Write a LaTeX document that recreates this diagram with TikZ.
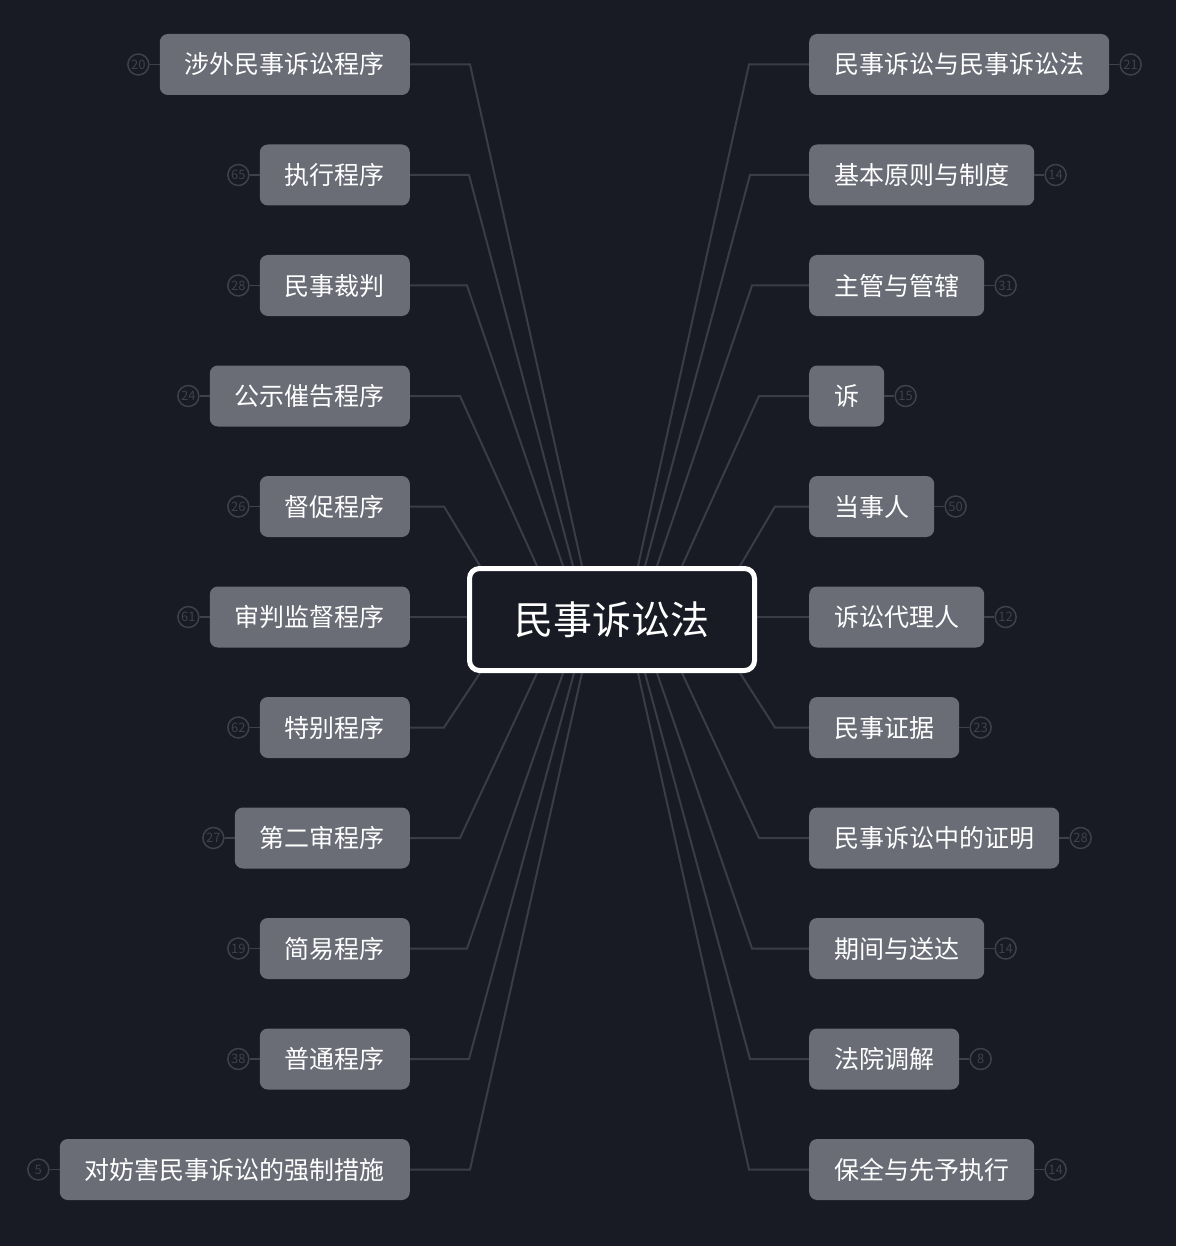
\documentclass[tikz,border=0pt]{standalone}
\usepackage{fontspec}
\setmainfont{Noto Sans CJK SC}
\usetikzlibrary{positioning}
\definecolor{canvas}{HTML}{181A24}
\definecolor{topicgray}{HTML}{6A6C76}
\definecolor{branchgray}{HTML}{3A3C48}
\definecolor{tallygray}{HTML}{3E404C}
\pgfdeclarelayer{bg}
\pgfsetlayers{bg,main}
\tikzstyle{rootbox}=[draw=white, line width=5pt, rounded corners=10pt, fill=canvas, minimum width=285pt, minimum height=102pt, inner sep=0pt, text=white, text height=34.3pt, text depth=4.7pt, font=\fontsize{39}{39}\selectfont]
\tikzstyle{topic}=[fill=topicgray, rounded corners=8pt, minimum height=61pt, inner xsep=25pt, inner ysep=0pt, text=white, text height=22pt, text depth=3pt, font=\fontsize{25}{25}\selectfont]
\tikzstyle{tally}=[circle, draw=tallygray, line width=1.5pt, minimum size=21pt, inner sep=0pt, text=tallygray, text height=9.5pt, text depth=0pt, font=\fontsize{13}{13}\selectfont]
\tikzstyle{branch}=[branchgray, line width=2pt]
\tikzstyle{stub}=[tallygray, line width=1.5pt]

\begin{document}
\begin{tikzpicture}[x=1pt, y=-1pt]
				\useasboundingbox (0,0) rectangle (1176,1246);
				\begin{pgfonlayer}{bg}
					\fill[canvas] (0,0) rectangle (1176,1246);
				\end{pgfonlayer}

				\node[rootbox] (root) at (612,619.5) {民事诉讼法};

				\node[topic, anchor=east] (l1) at (410,64.5) {涉外民事诉讼程序};
				\node[topic, anchor=east] (l2) at (410,175) {执行程序};
				\node[topic, anchor=east] (l3) at (410,285.5) {民事裁判};
				\node[topic, anchor=east] (l4) at (410,396) {公示催告程序};
				\node[topic, anchor=east] (l5) at (410,506.5) {督促程序};
				\node[topic, anchor=east] (l6) at (410,617) {审判监督程序};
				\node[topic, anchor=east] (l7) at (410,727.5) {特别程序};
				\node[topic, anchor=east] (l8) at (410,838) {第二审程序};
				\node[topic, anchor=east] (l9) at (410,948.5) {简易程序};
				\node[topic, anchor=east] (l10) at (410,1059) {普通程序};
				\node[topic, anchor=east] (l11) at (410,1169.5) {对妨害民事诉讼的强制措施};

				\node[topic, anchor=west] (r1) at (809,64.5) {民事诉讼与民事诉讼法};
				\node[topic, anchor=west] (r2) at (809,175) {基本原则与制度};
				\node[topic, anchor=west] (r3) at (809,285.5) {主管与管辖};
				\node[topic, anchor=west] (r4) at (809,396) {诉};
				\node[topic, anchor=west] (r5) at (809,506.5) {当事人};
				\node[topic, anchor=west] (r6) at (809,617) {诉讼代理人};
				\node[topic, anchor=west] (r7) at (809,727.5) {民事证据};
				\node[topic, anchor=west] (r8) at (809,838) {民事诉讼中的证明};
				\node[topic, anchor=west] (r9) at (809,948.5) {期间与送达};
				\node[topic, anchor=west] (r10) at (809,1059) {法院调解};
				\node[topic, anchor=west] (r11) at (809,1169.5) {保全与先予执行};

				\node[tally, left=10pt of l1] (tl1) {20};
				\node[tally, left=10pt of l2] (tl2) {65};
				\node[tally, left=10pt of l3] (tl3) {28};
				\node[tally, left=10pt of l4] (tl4) {24};
				\node[tally, left=10pt of l5] (tl5) {26};
				\node[tally, left=10pt of l6] (tl6) {61};
				\node[tally, left=10pt of l7] (tl7) {62};
				\node[tally, left=10pt of l8] (tl8) {27};
				\node[tally, left=10pt of l9] (tl9) {19};
				\node[tally, left=10pt of l10] (tl10) {38};
				\node[tally, left=10pt of l11] (tl11) {5};

				\node[tally, right=10pt of r1] (tr1) {21};
				\node[tally, right=10pt of r2] (tr2) {14};
				\node[tally, right=10pt of r3] (tr3) {31};
				\node[tally, right=10pt of r4] (tr4) {15};
				\node[tally, right=10pt of r5] (tr5) {50};
				\node[tally, right=10pt of r6] (tr6) {12};
				\node[tally, right=10pt of r7] (tr7) {23};
				\node[tally, right=10pt of r8] (tr8) {28};
				\node[tally, right=10pt of r9] (tr9) {14};
				\node[tally, right=10pt of r10] (tr10) {8};
				\node[tally, right=10pt of r11] (tr11) {14};

				\draw[stub] (tl1) -- (l1);
				\draw[stub] (tl2) -- (l2);
				\draw[stub] (tl3) -- (l3);
				\draw[stub] (tl4) -- (l4);
				\draw[stub] (tl5) -- (l5);
				\draw[stub] (tl6) -- (l6);
				\draw[stub] (tl7) -- (l7);
				\draw[stub] (tl8) -- (l8);
				\draw[stub] (tl9) -- (l9);
				\draw[stub] (tl10) -- (l10);
				\draw[stub] (tl11) -- (l11);

				\draw[stub] (tr1) -- (r1);
				\draw[stub] (tr2) -- (r2);
				\draw[stub] (tr3) -- (r3);
				\draw[stub] (tr4) -- (r4);
				\draw[stub] (tr5) -- (r5);
				\draw[stub] (tr6) -- (r6);
				\draw[stub] (tr7) -- (r7);
				\draw[stub] (tr8) -- (r8);
				\draw[stub] (tr9) -- (r9);
				\draw[stub] (tr10) -- (r10);
				\draw[stub] (tr11) -- (r11);

				\begin{pgfonlayer}{bg}
					\draw[branch] (l1.east) -- ++(60,0) -- ([xshift=-30pt]root.north);
					\draw[branch] (l2.east) -- ++(59,0) -- ([xshift=-39pt]root.north);
					\draw[branch] (l3.east) -- ++(57,0) -- ([xshift=-49pt]root.north);
					\draw[branch] (l4.east) -- ++(50,0) -- ([xshift=-75pt]root.north);
					\draw[branch] (l5.east) -- ++(34,0) -- ([xshift=-132pt]root.north);
					\draw[branch] (l6.east) -- (l6.east -| root.west);
					\draw[branch] (l7.east) -- ++(34,0) -- ([xshift=-132pt]root.south);
					\draw[branch] (l8.east) -- ++(50,0) -- ([xshift=-75pt]root.south);
					\draw[branch] (l9.east) -- ++(57,0) -- ([xshift=-49pt]root.south);
					\draw[branch] (l10.east) -- ++(59,0) -- ([xshift=-38pt]root.south);
					\draw[branch] (l11.east) -- ++(60,0) -- ([xshift=-30pt]root.south);

					\draw[branch] (r1.west) -- ++(-60,0) -- ([xshift=26pt]root.north);
					\draw[branch] (r2.west) -- ++(-59,0) -- ([xshift=33pt]root.north);
					\draw[branch] (r3.west) -- ++(-57,0) -- ([xshift=45pt]root.north);
					\draw[branch] (r4.west) -- ++(-50,0) -- ([xshift=70pt]root.north);
					\draw[branch] (r5.west) -- ++(-34,0) -- ([xshift=128pt]root.north);
					\draw[branch] (r6.west) -- (r6.west -| root.east);
					\draw[branch] (r7.west) -- ++(-34,0) -- ([xshift=128pt]root.south);
					\draw[branch] (r8.west) -- ++(-50,0) -- ([xshift=70pt]root.south);
					\draw[branch] (r9.west) -- ++(-57,0) -- ([xshift=45pt]root.south);
					\draw[branch] (r10.west) -- ++(-59,0) -- ([xshift=33pt]root.south);
					\draw[branch] (r11.west) -- ++(-60,0) -- ([xshift=26pt]root.south);
				\end{pgfonlayer}
			\end{tikzpicture}
\end{document}
